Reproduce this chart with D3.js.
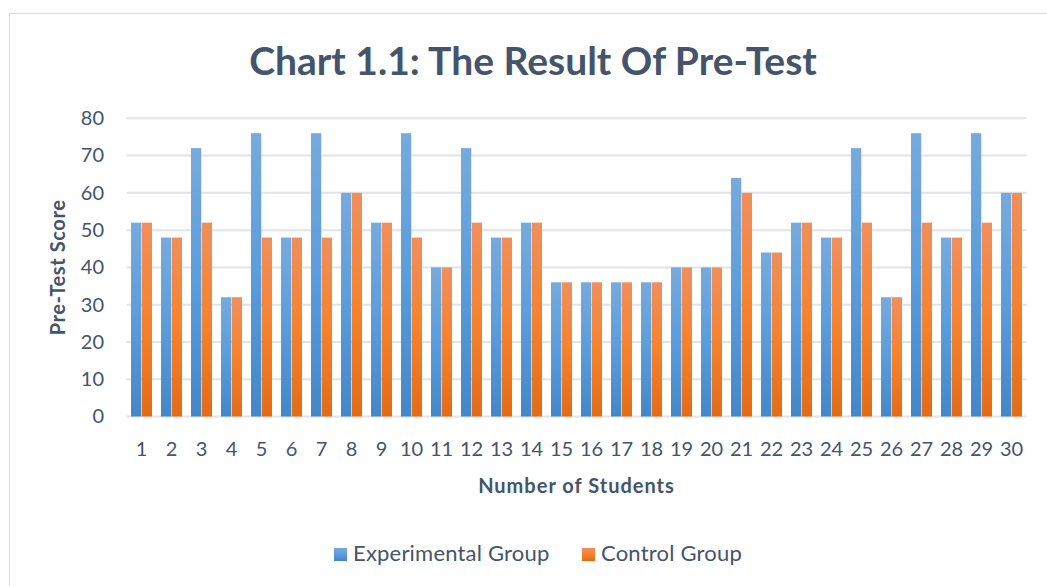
<!DOCTYPE html>
<html>
<head>
<meta charset="utf-8">
<script src="https://cdn.jsdelivr.net/npm/d3@7"></script>
<style>
  body { margin: 0; background: #fff; }
  text { font-family: Lato, "Open Sans", sans-serif; }
</style>
</head>
<body>
<svg id="chart" width="1047" height="586"></svg>
<script>
// data
var students = d3.range(1, 31).map(String);
var experimental = [52, 48, 72, 32, 76, 48, 76, 60, 52, 76, 40, 72, 48, 52, 36,
                    36, 36, 36, 40, 40, 64, 44, 52, 48, 72, 32, 76, 48, 76, 60];
var control = [52, 48, 52, 32, 48, 48, 48, 60, 52, 48, 40, 52, 48, 52, 36,
               36, 36, 36, 40, 40, 60, 44, 52, 48, 52, 32, 52, 48, 52, 60];
var seriesNames = ["Experimental Group", "Control Group"];
var yTicks = [0, 10, 20, 30, 40, 50, 60, 70, 80];

var textColor = "#44546a";
var svg = d3.select("#chart");

// chart frame
svg.append("rect")
  .attr("x", 9.5).attr("y", 13.5)
  .attr("width", 1060).attr("height", 600)
  .attr("fill", "#fff")
  .attr("stroke", "#d9d9d9");

// gradients (Excel style)
var defs = svg.append("defs");
function grad(id, stops) {
  var g = defs.append("linearGradient").attr("id", id)
    .attr("x1", 0).attr("y1", 0).attr("x2", 0).attr("y2", 1);
  stops.forEach(function(s) {
    g.append("stop").attr("offset", s[0]).attr("stop-color", s[1]);
  });
}
grad("gBlue", [[0, "#77aadd"], [0.5, "#5b9ddb"], [1, "#4487c8"]]);
grad("gOrange", [[0, "#f08f5c"], [0.5, "#f6822e"], [1, "#e46b16"]]);
var fills = ["url(#gBlue)", "url(#gOrange)"];

// plot area
var plotLeft = 126.5, plotRight = 1026.5, plotTop = 118.3, plotBottom = 416.5;

var x = d3.scaleBand()
  .domain(students)
  .range([plotLeft, plotRight])
  .paddingInner(0.3)
  .paddingOuter(0.15);

var xSub = d3.scaleBand()
  .domain([0, 1])
  .range([0, x.bandwidth()])
  .paddingInner(0.05);

var y = d3.scaleLinear()
  .domain([0, 80])
  .range([plotBottom, plotTop]);

// gridlines
svg.append("g")
  .selectAll("line")
  .data(yTicks)
  .enter().append("line")
  .attr("x1", plotLeft).attr("x2", plotRight)
  .attr("y1", function(d) { return y(d); })
  .attr("y2", function(d) { return y(d); })
  .attr("stroke", "#e0e3e8")
  .attr("stroke-width", 2);

// bars
var groups = svg.append("g")
  .selectAll("g")
  .data(students)
  .enter().append("g")
  .attr("transform", function(d) { return "translate(" + x(d) + ",0)"; });

groups.selectAll("rect")
  .data(function(d, i) { return [experimental[i], control[i]]; })
  .enter().append("rect")
  .attr("x", function(d, j) { return xSub(j); })
  .attr("y", function(d) { return y(d); })
  .attr("width", xSub.bandwidth())
  .attr("height", function(d) { return y(0) - y(d); })
  .attr("fill", function(d, j) { return fills[j]; });

// y axis labels
var yAxis = svg.append("g")
  .attr("transform", "translate(104,0)")
  .call(d3.axisLeft(y).tickValues(yTicks).tickSize(0).tickPadding(0));
yAxis.select(".domain").remove();
yAxis.selectAll("text")
  .attr("font-size", "20px")
  .attr("fill", textColor);

// x axis labels
var xAxis = svg.append("g")
  .attr("transform", "translate(0," + plotBottom + ")")
  .call(d3.axisBottom(x).tickSize(0).tickPadding(25));
xAxis.select(".domain").remove();
xAxis.selectAll("text")
  .attr("font-size", "20px")
  .attr("fill", textColor);

// title
svg.append("text")
  .attr("x", 533)
  .attr("y", 75)
  .attr("text-anchor", "middle")
  .attr("font-size", "39px")
  .attr("font-weight", "bold")
  .attr("fill", textColor)
  .text("Chart 1.1: The Result Of Pre-Test");

// x axis title
svg.append("text")
  .attr("x", (plotLeft + plotRight) / 2)
  .attr("y", 493)
  .attr("text-anchor", "middle")
  .attr("font-size", "20px")
  .attr("font-weight", "bold")
  .attr("letter-spacing", "1px")
  .attr("fill", textColor)
  .text("Number of Students");

// y axis title
svg.append("text")
  .attr("transform", "translate(65," + ((plotTop + plotBottom) / 2) + ") rotate(-90)")
  .attr("text-anchor", "middle")
  .attr("font-size", "20px")
  .attr("font-weight", "bold")
  .attr("letter-spacing", "0.6px")
  .attr("fill", textColor)
  .text("Pre-Test Score");

// legend
var legendX = [334, 582];
var legend = svg.append("g")
  .selectAll("g")
  .data(seriesNames)
  .enter().append("g")
  .attr("transform", function(d, i) { return "translate(" + legendX[i] + ",548)"; });
legend.append("rect")
  .attr("width", 13).attr("height", 13)
  .attr("fill", function(d, i) { return fills[i]; });
legend.append("text")
  .attr("x", 19).attr("y", 13)
  .attr("font-size", "22px")
  .attr("letter-spacing", "0.2px")
  .attr("fill", textColor)
  .text(function(d) { return d; });
</script>
</body>
</html>
